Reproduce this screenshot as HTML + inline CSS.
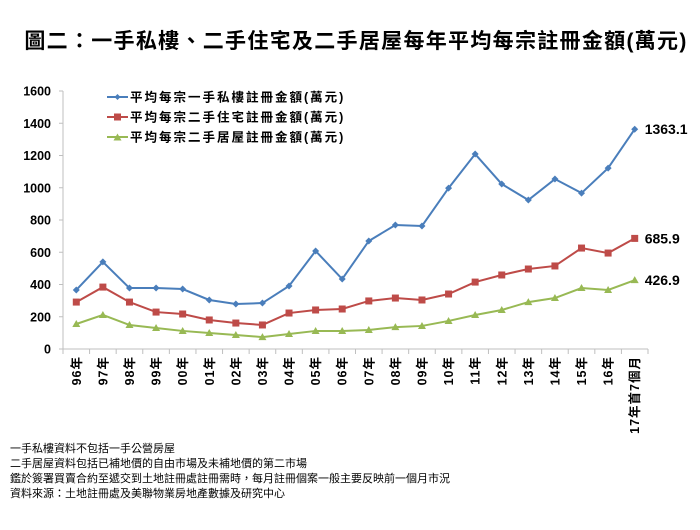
<!DOCTYPE html>
<html><head><meta charset="utf-8"><style>
body{margin:0;background:#fff;width:700px;height:525px;overflow:hidden;font-family:"Liberation Sans","Noto Sans CJK TC",sans-serif}
svg text{font-family:"Liberation Sans","Noto Sans CJK TC",sans-serif}
</style></head><body>
<svg id="chart" width="700" height="525">
<text x="356" y="48" text-anchor="middle" font-size="21" font-weight="bold" letter-spacing="1.3">圖二：一手私樓、二手住宅及二手居屋每年平均每宗註冊金額(萬元)</text>
<g id="axes"></g><g id="series"></g>
<g font-size="12.5" font-weight="bold" letter-spacing="2">
<g><line x1="107" y1="97" x2="128" y2="97" stroke="#4a7ebb" stroke-width="2"/><path d="M117.5 94 l3 3 l-3 3 l-3 -3z" fill="#4a7ebb"/><text x="130" y="101.5">平均每宗一手私樓註冊金額(萬元)</text></g>
<g><line x1="107" y1="117" x2="128" y2="117" stroke="#be4b48" stroke-width="2"/><rect x="114" y="113.5" width="7" height="7" fill="#be4b48"/><text x="130" y="121.5">平均每宗二手住宅註冊金額(萬元)</text></g>
<g><line x1="107" y1="137" x2="128" y2="137" stroke="#98b954" stroke-width="2"/><path d="M117.5 133.5 l4 7 h-8z" fill="#98b954"/><text x="130" y="141.5">平均每宗二手居屋註冊金額(萬元)</text></g>
</g>
<g font-size="11">
<text x="10" y="452">一手私樓資料不包括一手公營房屋</text>
<text x="10" y="467">二手居屋資料包括已補地價的自由市場及未補地價的第二市場</text>
<text x="10" y="482">鑑於簽署買賣合約至遞交到土地註冊處註冊需時，每月註冊個案一般主要反映前一個月市況</text>
<text x="10" y="497">資料來源：土地註冊處及美聯物業房地產數據及研究中心</text>
</g>
</svg>
<script>
const categories=["96年","97年","98年","99年","00年","01年","02年","03年","04年","05年","06年","07年","08年","09年","10年","11年","12年","13年","14年","15年","16年","17年首7個月"];
const firstHand=[366,540,378,378,372,304,279,285,391,608,434,670,769,763,998,1209,1023,924,1054,967,1122,1363.1];
const secondHand=[291,384,291,229,217,180,161,149,223,242,248,298,316,304,341,415,459,496,515,626,595,685.9];
const hos=[155,211,149,130,112,99,87,74,93,112,112,118,136,143,174,211,242,291,316,378,366,426.9];
const yTicks=[0,200,400,600,800,1000,1200,1400,1600];
const NS="http://www.w3.org/2000/svg";
const x0=63,x1=648,yTop=91,yBot=349,ymax=1600;
const step=(x1-x0)/categories.length;
const xs=i=>x0+step*(i+0.5);
const ys=v=>yBot-v/ymax*(yBot-yTop);
function mk(t,a,p){const e=document.createElementNS(NS,t);for(const k in a)e.setAttribute(k,a[k]);p.appendChild(e);return e;}
const ax=document.getElementById('axes'),sr=document.getElementById('series');
const ya=mk('line',{x1:x0,y1:yTop,x2:x0,y2:yBot,stroke:'#bfbfbf'},ax);


const xa=mk('line',{x1:x0,y1:yBot,x2:x1,y2:yBot,stroke:'#bfbfbf'},ax);


yTicks.forEach(v=>{mk('line',{x1:x0-4,y1:ys(v),x2:x0,y2:ys(v),stroke:'#bfbfbf'},ax);
const t=mk('text',{x:51,y:ys(v)+4.5,'text-anchor':'end','font-size':12.5,'font-weight':'bold'},ax);t.textContent=v;

});
for(let i=0;i<=categories.length;i++)mk('line',{x1:x0+step*i,y1:yBot,x2:x0+step*i,y2:yBot+5,stroke:'#bfbfbf'},ax);
categories.forEach((c,i)=>{const t=mk('text',{transform:`translate(${xs(i)+4.5},${356}) rotate(-90)`,'text-anchor':'end','font-size':12.5,'font-weight':'bold','letter-spacing':1},ax);t.textContent=c;

});
function series(d,col,shape,name,lbl){
const g=mk('g',{},sr);


mk('polyline',{points:d.map((v,i)=>xs(i)+','+ys(v)).join(' '),fill:'none',stroke:col,'stroke-width':2},g);
d.forEach((v,i)=>{const x=xs(i),y=ys(v);let m;
if(shape==='d')m=mk('path',{d:`M${x} ${y-3.5}l3.5 3.5l-3.5 3.5l-3.5 -3.5z`,fill:col},g);
else if(shape==='s')m=mk('rect',{x:x-3.5,y:y-3.5,width:7,height:7,fill:col},g);
else m=mk('path',{d:`M${x} ${y-4}l4 7h-8z`,fill:col},g);

});
const last=d.length-1;const t=mk('text',{x:xs(last)+10,y:ys(d[last])+5,'font-size':14,'font-weight':'bold'},g);t.textContent=lbl(d[last]);

}
const f=v=>v.toFixed(1);
series(hos,'#98b954','t','series-second-hand-hos',f);
series(secondHand,'#be4b48','s','series-second-hand-residential',f);
series(firstHand,'#4a7ebb','d','series-first-hand',f);
</script>
</body></html>
